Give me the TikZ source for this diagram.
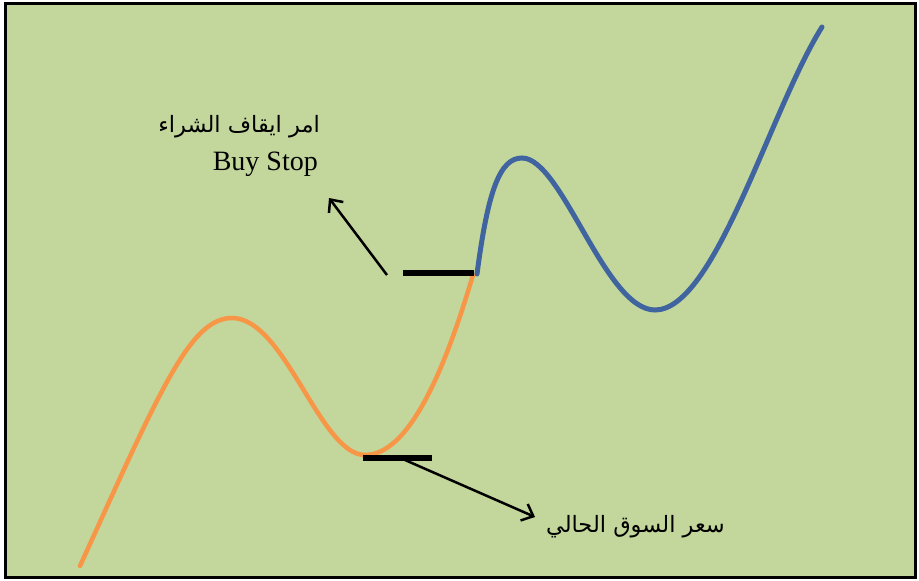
\documentclass[tikz,border=0pt]{standalone}
\usepackage{fontspec}
\setmainfont{Liberation Serif}
\newfontfamily\arabicfont[Script=Arabic]{DejaVu Sans}
\TeXXeTstate=1
\usetikzlibrary{arrows.meta}
\definecolor{bg}{HTML}{C3D69B}
\definecolor{orangec}{HTML}{F79646}
\definecolor{bluec}{HTML}{3F64A0}
\tikzset{
  curveo/.style={orangec, line width=4.5pt, line cap=round},
  curveb/.style={bluec, line width=5pt, line cap=round},
  level/.style={black, line width=6pt},
  pointer/.style={black, line width=2.5pt, -{Straight Barb[length=10pt,width=18pt,line width=2.5pt]}},
  label/.style={inner sep=0pt, anchor=east}
}
\begin{document}
\begin{tikzpicture}[x=1pt,y=-1pt]
\useasboundingbox (0,0) rectangle (919,581);
\draw[fill=bg, draw=black, line width=3pt] (5,3.5) rectangle (915.5,577.5);
% orange curve
\draw[curveo] (80,566) .. controls (160,390) and (190,318) .. (232,318)
  .. controls (285,318) and (320,455) .. (365,455)
  .. controls (415,455) and (452,345) .. (473,275);
% blue curve
\draw[curveb] (477,274) .. controls (488,190) and (500,158) .. (522,158)
  .. controls (562,158) and (605,310) .. (655,310)
  .. controls (715,310) and (770,110) .. (822,27);
% levels
\draw[level] (403,273) -- (474,273);
\draw[level] (363,458) -- (432,458);
\coordinate (s1) at (387,275);
\coordinate (e1) at (329,198);
\coordinate (s2) at (405,460);
\coordinate (e2) at (535,517);
\draw[pointer] (s1) -- (e1);
\draw[pointer] (s2) -- (e2);
\node[label] (ar1) at (320,127) {\fontsize{22.5}{26}\selectfont\arabicfont\beginR امر ايقاف الشراء\endR};
\node[label] (bs) at (318,164) {\fontsize{28}{32}\selectfont Buy Stop};
\node[label] (ar2) at (725,527) {\fontsize{22.5}{26}\selectfont\arabicfont\beginR سعر السوق الحالي\endR};
\end{tikzpicture}
\end{document}
